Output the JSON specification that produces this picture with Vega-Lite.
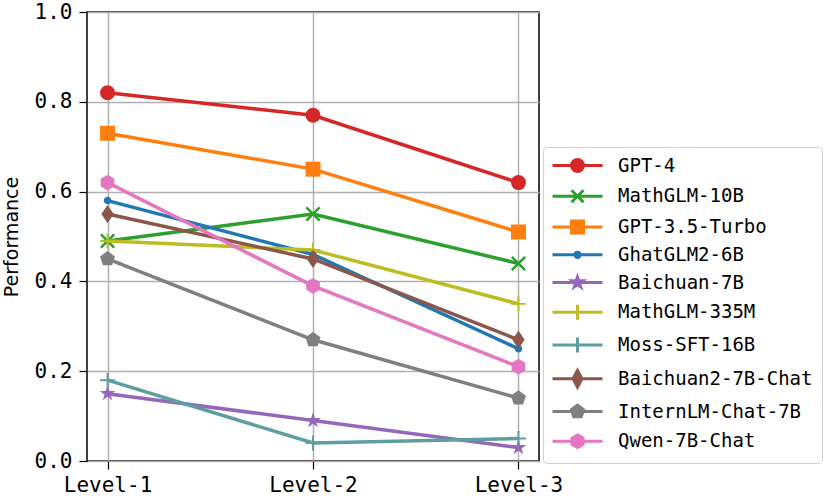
{
  "$schema": "https://vega.github.io/schema/vega-lite/v6.json",
  "autosize": "none",
  "padding": {"left": 87, "top": 12, "right": 292, "bottom": 38},
  "width": 452,
  "height": 449,
  "background": "white",
  "config": {
    "view": {"stroke": "black", "strokeWidth": 1.5},
    "axis": {
      "labelFont": "DejaVu Sans Mono",
      "labelFontSize": 21,
      "labelColor": "black",
      "tickColor": "black",
      "tickSize": 8,
      "tickWidth": 1.2,
      "gridColor": "#b0b0b0",
      "gridWidth": 1.5,
      "domain": false,
      "titleFont": "DejaVu Sans",
      "titleFontSize": 19,
      "titleFontWeight": "normal",
      "titleColor": "black"
    },
    "legend": {
      "padding": 9,
      "strokeColor": "#d0d0d0",
      "fillColor": "white",
      "cornerRadius": 4,
      "labelFont": "DejaVu Sans Mono",
      "labelFontSize": 19,
      "labelColor": "black",
      "labelLimit": 400,
      "symbolSize": 225,
      "rowPadding": 5.75,
      "symbolOffset": 16,
      "labelOffset": 31
    }
  },
  "data": {
    "values": [
      {"series": "GPT-4", "level": "Level-1", "value": 0.82},
      {"series": "GPT-4", "level": "Level-2", "value": 0.77},
      {"series": "GPT-4", "level": "Level-3", "value": 0.62},
      {"series": "MathGLM-10B", "level": "Level-1", "value": 0.49},
      {"series": "MathGLM-10B", "level": "Level-2", "value": 0.55},
      {"series": "MathGLM-10B", "level": "Level-3", "value": 0.44},
      {"series": "GPT-3.5-Turbo", "level": "Level-1", "value": 0.73},
      {"series": "GPT-3.5-Turbo", "level": "Level-2", "value": 0.65},
      {"series": "GPT-3.5-Turbo", "level": "Level-3", "value": 0.51},
      {"series": "GhatGLM2-6B", "level": "Level-1", "value": 0.58},
      {"series": "GhatGLM2-6B", "level": "Level-2", "value": 0.46},
      {"series": "GhatGLM2-6B", "level": "Level-3", "value": 0.25},
      {"series": "Baichuan-7B", "level": "Level-1", "value": 0.15},
      {"series": "Baichuan-7B", "level": "Level-2", "value": 0.09},
      {"series": "Baichuan-7B", "level": "Level-3", "value": 0.03},
      {"series": "MathGLM-335M", "level": "Level-1", "value": 0.49},
      {"series": "MathGLM-335M", "level": "Level-2", "value": 0.47},
      {"series": "MathGLM-335M", "level": "Level-3", "value": 0.35},
      {"series": "Moss-SFT-16B", "level": "Level-1", "value": 0.18},
      {"series": "Moss-SFT-16B", "level": "Level-2", "value": 0.04},
      {"series": "Moss-SFT-16B", "level": "Level-3", "value": 0.05},
      {"series": "Baichuan2-7B-Chat", "level": "Level-1", "value": 0.55},
      {"series": "Baichuan2-7B-Chat", "level": "Level-2", "value": 0.45},
      {"series": "Baichuan2-7B-Chat", "level": "Level-3", "value": 0.27},
      {"series": "InternLM-Chat-7B", "level": "Level-1", "value": 0.45},
      {"series": "InternLM-Chat-7B", "level": "Level-2", "value": 0.27},
      {"series": "InternLM-Chat-7B", "level": "Level-3", "value": 0.14},
      {"series": "Qwen-7B-Chat", "level": "Level-1", "value": 0.62},
      {"series": "Qwen-7B-Chat", "level": "Level-2", "value": 0.39},
      {"series": "Qwen-7B-Chat", "level": "Level-3", "value": 0.21}
    ]
  },
  "encoding": {
    "x": {
      "field": "level", "type": "nominal",
      "scale": {"type": "point", "padding": 0.1},
      "axis": {"title": null, "labelAngle": 0, "labelPadding": 5, "grid": true}
    },
    "y": {
      "field": "value", "type": "quantitative",
      "scale": {"domain": [0, 1], "nice": false, "zero": true},
      "axis": {"title": "Performance", "values": [0, 0.2, 0.4, 0.6, 0.8, 1.0], "format": ".1f", "labelPadding": 7, "titlePadding": 13, "grid": true}
    },
    "color": {
      "field": "series", "type": "nominal",
      "scale": {
        "domain": ["GPT-4", "MathGLM-10B", "GPT-3.5-Turbo", "GhatGLM2-6B", "Baichuan-7B", "MathGLM-335M", "Moss-SFT-16B", "Baichuan2-7B-Chat", "InternLM-Chat-7B", "Qwen-7B-Chat"],
        "range": ["#d62728", "#2ca02c", "#ff7f0e", "#1f77b4", "#9467bd", "#bcbd22", "#5f9ea0", "#8c564b", "#7f7f7f", "#e377c2"]
      },
      "legend": {
        "title": null,
        "orient": "none",
        "legendX": 456,
        "legendY": 135,
        "encode": {"symbols": {"update": {"stroke": {"scale": "color", "field": "value"}, "fill": {"scale": "color", "field": "value"}, "strokeWidth": {"value": 3}, "opacity": {"value": 1}}}}
      }
    }
  },
  "layer": [
    {"transform": [{"filter": {"field": "series", "equal": "GPT-4"}}],
     "mark": {"type": "line", "strokeWidth": 3.5, "point": {"shape": "circle", "size": 225, "filled": true, "strokeWidth": 0, "opacity": 1}}},
    {"transform": [{"filter": {"field": "series", "equal": "MathGLM-10B"}}],
     "mark": {"type": "line", "strokeWidth": 3.5, "point": {"shape": "M-0.764,-1.004L0,-0.24L0.764,-1.004L1.004,-0.764L0.24,0L1.004,0.764L0.764,1.004L0,0.24L-0.764,1.004L-1.004,0.764L-0.24,0L-1.004,-0.764Z", "size": 225, "filled": true, "strokeWidth": 0, "opacity": 1}}},
    {"transform": [{"filter": {"field": "series", "equal": "GPT-3.5-Turbo"}}],
     "mark": {"type": "line", "strokeWidth": 3.5, "point": {"shape": "square", "size": 225, "filled": true, "strokeWidth": 0, "opacity": 1}}},
    {"transform": [{"filter": {"field": "series", "equal": "GhatGLM2-6B"}}],
     "mark": {"type": "line", "strokeWidth": 3.5, "point": {"shape": "M-0.5,0A0.5,0.5 0 1,0 0.5,0A0.5,0.5 0 1,0 -0.5,0Z", "size": 225, "filled": true, "strokeWidth": 0, "opacity": 1}}},
    {"transform": [{"filter": {"field": "series", "equal": "Baichuan-7B"}}],
     "mark": {"type": "line", "strokeWidth": 3.5, "point": {"shape": "M0,-1.1L0.247,-0.34L1.046,-0.34L0.399,0.13L0.647,0.89L0,0.42L-0.647,0.89L-0.399,0.13L-1.046,-0.34L-0.247,-0.34Z", "size": 225, "filled": true, "strokeWidth": 0, "opacity": 1}}},
    {"transform": [{"filter": {"field": "series", "equal": "MathGLM-335M"}}],
     "mark": {"type": "line", "strokeWidth": 3.5, "point": {"shape": "M-1,-0.13H-0.13V-1H0.13V-0.13H1V0.13H0.13V1H-0.13V0.13H-1Z", "size": 225, "filled": true, "strokeWidth": 0, "opacity": 1}}},
    {"transform": [{"filter": {"field": "series", "equal": "Moss-SFT-16B"}}],
     "mark": {"type": "line", "strokeWidth": 3.5, "point": {"shape": "M-1,-0.13H-0.13V-1H0.13V-0.13H1V0.13H0.13V1H-0.13V0.13H-1Z", "size": 225, "filled": true, "strokeWidth": 0, "opacity": 1}}},
    {"transform": [{"filter": {"field": "series", "equal": "Baichuan2-7B-Chat"}}],
     "mark": {"type": "line", "strokeWidth": 3.5, "point": {"shape": "M0,-1.22L0.82,0L0,1.22L-0.82,0Z", "size": 225, "filled": true, "strokeWidth": 0, "opacity": 1}}},
    {"transform": [{"filter": {"field": "series", "equal": "InternLM-Chat-7B"}}],
     "mark": {"type": "line", "strokeWidth": 3.5, "point": {"shape": "M0,-1.05L0.999,-0.324L0.617,0.849L-0.617,0.849L-0.999,-0.324Z", "size": 225, "filled": true, "strokeWidth": 0, "opacity": 1}}},
    {"transform": [{"filter": {"field": "series", "equal": "Qwen-7B-Chat"}}],
     "mark": {"type": "line", "strokeWidth": 3.5, "point": {"shape": "M0,-1.05L0.909,-0.525L0.909,0.525L0,1.05L-0.909,0.525L-0.909,-0.525Z", "size": 225, "filled": true, "strokeWidth": 0, "opacity": 1}}},
    {
      "transform": [{"filter": "datum.value > 5"}],
      "mark": {"type": "point", "filled": true, "size": 225},
      "encoding": {
        "shape": {
          "field": "series", "type": "nominal",
          "scale": {
            "domain": ["GPT-4", "MathGLM-10B", "GPT-3.5-Turbo", "GhatGLM2-6B", "Baichuan-7B", "MathGLM-335M", "Moss-SFT-16B", "Baichuan2-7B-Chat", "InternLM-Chat-7B", "Qwen-7B-Chat"],
            "range": [
              "M-3.33,0H3.33M-0.8,0A0.8,0.8 0 1,0 0.8,0A0.8,0.8 0 1,0 -0.8,0Z",
              "M-3.33,0H3.33M-0.8,-0.8L0.8,0.8M-0.8,0.8L0.8,-0.8",
              "M-3.33,0H3.33M-0.8,-0.8H0.8V0.8H-0.8Z",
              "M-3.33,0H3.33M-0.35,0A0.35,0.35 0 1,0 0.35,0A0.35,0.35 0 1,0 -0.35,0Z",
              "M-3.33,0H3.33M0,-0.72L0.162,-0.223L0.685,-0.223L0.262,0.085L0.423,0.583L0,0.275L-0.423,0.583L-0.262,0.085L-0.685,-0.223L-0.162,-0.223Z",
              "M-3.33,0H3.33M0,-1V1",
              "M-3.33,0H3.33M0,-1V1",
              "M-3.33,0H3.33M0,-1.1L0.6,0L0,1.1L-0.6,0Z",
              "M-3.33,0H3.33M0,-0.85L0.808,-0.263L0.5,0.688L-0.5,0.688L-0.808,-0.263Z",
              "M-3.33,0H3.33M0,-0.85L0.736,-0.425L0.736,0.425L0,0.85L-0.736,0.425L-0.736,-0.425Z"
            ]
          },
          "legend": {
            "title": null,
            "orient": "none",
            "legendX": 456,
            "legendY": 135,
            "encode": {"symbols": {"update": {"stroke": {"scale": "color", "field": "value"}, "fill": {"scale": "color", "field": "value"}, "strokeWidth": {"value": 3}, "opacity": {"value": 1}}}}
          }
        }
      }
    }
  ]
}
